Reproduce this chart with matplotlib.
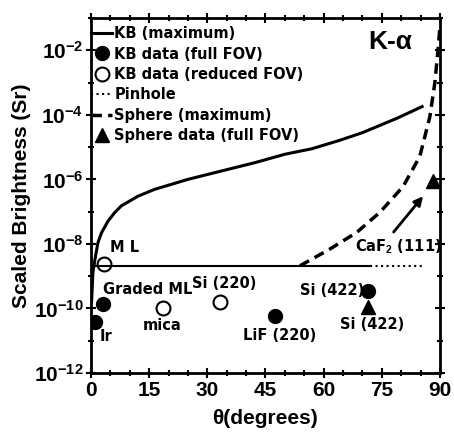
import numpy as np
import matplotlib
matplotlib.use("Agg")
import matplotlib.pyplot as plt
from matplotlib.ticker import MultipleLocator, FixedLocator, FuncFormatter, NullFormatter

plt.rcParams['font.family'] = ['Liberation Sans', 'DejaVu Sans']
plt.rcParams['font.weight'] = 'bold'
plt.rcParams['mathtext.fontset'] = 'custom'
plt.rcParams['mathtext.rm'] = 'Liberation Sans:bold'
plt.rcParams['mathtext.bf'] = 'Liberation Sans:bold'

# KB (maximum) curve
kb_theta = [0.15, 0.5, 1.0, 1.8, 2.7, 4.4, 6.1, 7.8, 12.1, 16.4, 25, 33.5, 42.3,
            50, 57, 64, 70, 79, 85.4]
kb_b = [1.6e-10, 1.3e-9, 3.2e-9, 1.1e-8, 2.2e-8, 5.1e-8, 9.3e-8, 1.5e-7, 3.0e-7,
        4.9e-7, 1.0e-6, 1.8e-6, 3.3e-6, 6.0e-6, 8.9e-6, 1.6e-5, 2.8e-5, 7.9e-5, 1.8e-4]
# flat ML line and pinhole
flat_theta = [0, 72]
flat_b = [2.1e-9, 2.1e-9]
pin_theta = [72, 85.3]
pin_b = [2.1e-9, 2.1e-9]
# Sphere (maximum)
sph_theta = [53.9, 61.6, 68.6, 74.5, 80.5, 84.8, 87.4, 88.7, 89.5, 90]
sph_b = [2.1e-9, 6.9e-9, 2.3e-8, 9.5e-8, 6.0e-7, 5.1e-6, 8.7e-5, 1.0e-3, 1.0e-2, 5.2e-2]
# data points
full_theta = [1.0, 3.1, 47.4, 71.4]
full_b = [3.9e-11, 1.4e-10, 5.9e-11, 3.5e-10]
red_theta = [3.4, 18.6, 33.3]
red_b = [2.4e-9, 1.0e-10, 1.6e-10]
tri_theta = [71.4, 88.2]
tri_b = [1.1e-10, 8.7e-7]

labels = ['M L', 'Graded ML', 'Si (220)', 'Ir', 'mica', 'LiF (220)', 'Si (422)', 'Si (422)']
lab_x = [4.9, 3.1, 26.0, 2.3, 13.4, 39.2, 53.9, 64.2]
lab_y = [8e-9, 4e-10, 5.8e-10, 1.4e-11, 2.9e-11, 1.5e-11, 3.7e-10, 3.2e-11]

small = dict(family=['DejaVu Sans'], fontsize=10.5, fontweight='bold')

fig = plt.figure(figsize=(4.54, 4.32), dpi=100)
ax = fig.add_axes([0.2004, 0.1366, 0.7686, 0.8217])

ax.plot(kb_theta, kb_b, 'k-', lw=2.2, label='KB (maximum)')
ax.plot(full_theta, full_b, 'ko', ms=10, label='KB data (full FOV)')
ax.plot(red_theta, red_b, 'o', mfc='white', mec='k', mew=1.5, ms=10, label='KB data (reduced FOV)')
ax.plot(pin_theta, pin_b, 'k:', lw=1.5, label='Pinhole')
ax.plot(sph_theta, sph_b, 'k--', lw=2.5, dashes=(3, 1.8), label='Sphere (maximum)')
ax.plot(tri_theta, tri_b, 'k^', ms=10, label='Sphere data (full FOV)')
ax.plot(flat_theta, flat_b, 'k-', lw=1.5)

for t, x, y in zip(labels, lab_x, lab_y):
    ax.text(x, y, t, va='center', ha='left', **small)

ax.text(68.1, 8.5e-9, r'CaF$_\mathbf{2}$ (111)', va='center', ha='left',
        clip_on=True, **small)
ax.annotate('', xy=(86.1, 3.5e-7), xytext=(77.6, 2.0e-8),
            arrowprops=dict(arrowstyle='-|>', color='k', lw=2, mutation_scale=13))
ax.text(71.4, 1.8e-2, 'K-α', fontsize=19, fontweight='bold', va='center', ha='left')

ax.set_yscale('log')
ax.set_xlim(0, 90)
ax.set_ylim(1e-12, 1e-1)
ax.xaxis.set_major_locator(MultipleLocator(15))
ax.xaxis.set_minor_locator(MultipleLocator(5))
ax.yaxis.set_major_locator(FixedLocator([1e-12, 1e-10, 1e-8, 1e-6, 1e-4, 1e-2]))
ax.yaxis.set_minor_locator(FixedLocator([10.0 ** k for k in range(-12, 0)]))
ax.yaxis.set_minor_formatter(NullFormatter())
ax.yaxis.set_major_formatter(FuncFormatter(
    lambda v, p: r'$\mathbf{10^{%d}}$' % int(round(np.log10(v)))))
ax.tick_params(which='both', direction='inout', top=True, right=True, width=1.5)
ax.tick_params(which='major', length=7, labelsize=15, pad=2)
ax.tick_params(which='minor', length=4)
for lab in ax.get_xticklabels():
    lab.set_fontweight('bold')
for s in ax.spines.values():
    s.set_linewidth(2)

ax.set_xlabel('θ(degrees)', fontsize=15, fontweight='bold', labelpad=7)
ax.set_ylabel('Scaled Brightness (Sr)', fontsize=15, fontweight='bold', labelpad=2)

leg = ax.legend(loc='upper left', bbox_to_anchor=(0.0, 0.977), frameon=False,
                prop=dict(family='DejaVu Sans', size=10.5, weight='bold'),
                handlelength=1.45, handletextpad=0.15,
                labelspacing=0.37, borderaxespad=0, borderpad=0)

fig.savefig('out.png', dpi=100)
